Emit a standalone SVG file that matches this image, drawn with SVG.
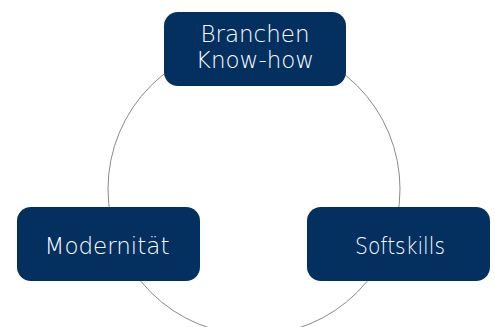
<svg xmlns="http://www.w3.org/2000/svg" width="495" height="327" viewBox="0 0 495 327">
<style>
.box{fill:#03305F;}
.lbl{fill:#ffffff;font-family:"DejaVu Sans","Noto Sans",sans-serif;font-size:23px;font-weight:300;text-anchor:middle;}
.ring{fill:none;stroke:#8a8a8a;stroke-width:1;}
</style>
<rect width="495" height="327" fill="#ffffff"/>
<g id="connectors">
<circle class="ring" cx="254" cy="189" r="146"/>
</g>
<g id="node-branchen">
<rect class="box" x="164" y="12" width="182" height="74" rx="14"/>
<text class="lbl" x="255" y="42">Branchen</text>
<text class="lbl" x="255" y="68">Know-how</text>
</g>
<g id="node-modernitaet">
<rect class="box" x="17" y="207" width="183" height="74" rx="14"/>
<text class="lbl" x="107" y="254">Modernität</text>
</g>
<g id="node-softskills">
<rect class="box" x="307" y="207" width="183" height="74" rx="14"/>
<text class="lbl" x="400" y="254" textLength="90" lengthAdjust="spacingAndGlyphs">Softskills</text>
</g>
</svg>
